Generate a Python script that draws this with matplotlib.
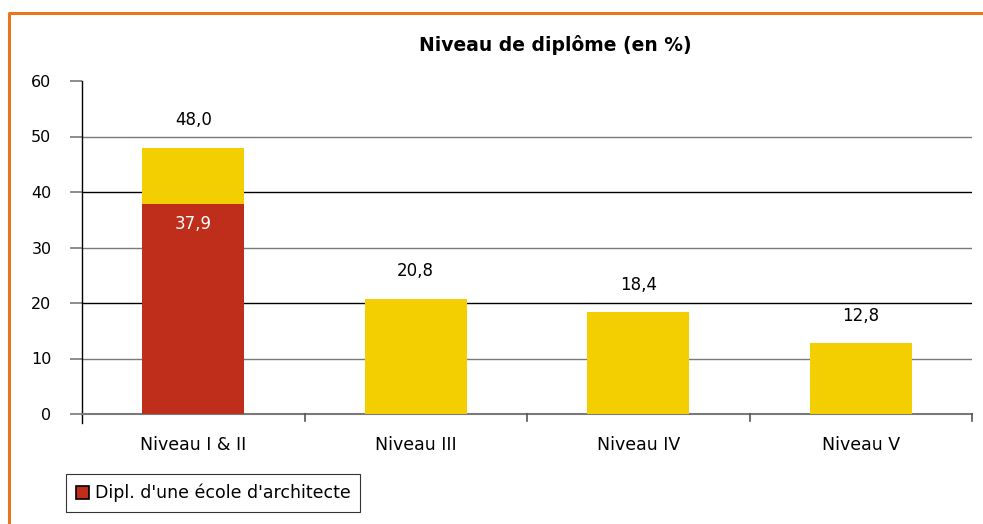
import matplotlib.pyplot as plt
import numpy as np
from matplotlib.lines import Line2D
from matplotlib.patches import Patch

categories = ['Niveau I & II', 'Niveau III', 'Niveau IV', 'Niveau V']
total_values = [48.0, 20.8, 18.4, 12.8]
archi_values = [37.9, 0.0, 0.0, 0.0]
total_labels = ['48,0', '20,8', '18,4', '12,8']
archi_labels = ['37,9', '', '', '']

red = '#BE2E1A'
yellow = '#F3CE00'
orange = '#E8761E'

plt.rcParams['font.family'] = ['DejaVu Sans']

fig = plt.figure(figsize=(9.83, 5.24), dpi=100)
ax = fig.add_axes([82 / 983, 1 - 414 / 524, 890 / 983, 333 / 524])

x = np.arange(len(categories))
rest = [t - a for t, a in zip(total_values, archi_values)]
width = 0.46

ax.bar(x, archi_values, width, color=red, zorder=3)
ax.bar(x, rest, width, bottom=archi_values, color=yellow, zorder=3)

for i in range(len(categories)):
    ax.text(x[i], total_values[i] + 3.3, total_labels[i], ha='center', va='bottom',
            fontsize=12)
    if archi_labels[i]:
        ax.text(x[i], archi_values[i] - 2.0, archi_labels[i], ha='center', va='top',
                fontsize=12, color='white', zorder=4)

# alternating gridline tones like the original export
grid_colors = ['#7a7a7a', '#000000', '#7a7a7a', '#000000', '#7a7a7a']
for val, col in zip([10, 20, 30, 40, 50], grid_colors):
    ax.axhline(val, color=col, linewidth=1.0, zorder=1)

ax.set_xlim(-0.5, len(categories) - 0.5)
ax.set_ylim(0, 60)
ax.set_yticks(np.arange(0, 61, 10))
ax.tick_params(axis='y', direction='out', length=9, width=1.2, color='#7a7a7a',
               labelsize=11.5, pad=13)
ax.set_xticks(x)
ax.set_xticklabels(categories, fontsize=12.5)
ax.tick_params(axis='x', length=0, pad=16)
for b in np.arange(0.5, len(categories) - 0.4, 1.0):
    ax.plot([b, b], [0, -1.3], color='#555555', linewidth=1.2, clip_on=False, zorder=4)
ax.plot([-0.5, -0.5], [0, -1.6], color='black', linewidth=1.0, clip_on=False)

for side in ['top', 'right']:
    ax.spines[side].set_visible(False)
ax.spines['left'].set_color('black')
ax.spines['left'].set_linewidth(1.0)
ax.spines['bottom'].set_color('#7a7a7a')
ax.spines['bottom'].set_linewidth(1.5)

fig.text(555 / 983, 1 - 45 / 524, 'Niveau de diplôme (en %)', ha='center', va='center',
         fontsize=13.5, fontweight='bold')

leg = fig.legend(handles=[Patch(facecolor=red, edgecolor='black', linewidth=1.2,
                                label="Dipl. d'une école d'architecte")],
                 loc='lower left', bbox_to_anchor=(66 / 983, 1 - 512 / 524),
                 fontsize=12.5, frameon=True, fancybox=False, handlelength=0.8,
                 handleheight=0.8, handletextpad=0.3, borderpad=0.55, borderaxespad=0)
leg.get_frame().set_edgecolor('black')
leg.get_frame().set_linewidth(0.8)

# orange frame on left and top
bx = 9 / 983
by = 1 - 13 / 524
fig.add_artist(Line2D([bx, bx, 1.0], [0.0, by, by], color=orange, linewidth=2.2,
                      transform=fig.transFigure))

fig.savefig('out.png', dpi=100)
plt.close(fig)
